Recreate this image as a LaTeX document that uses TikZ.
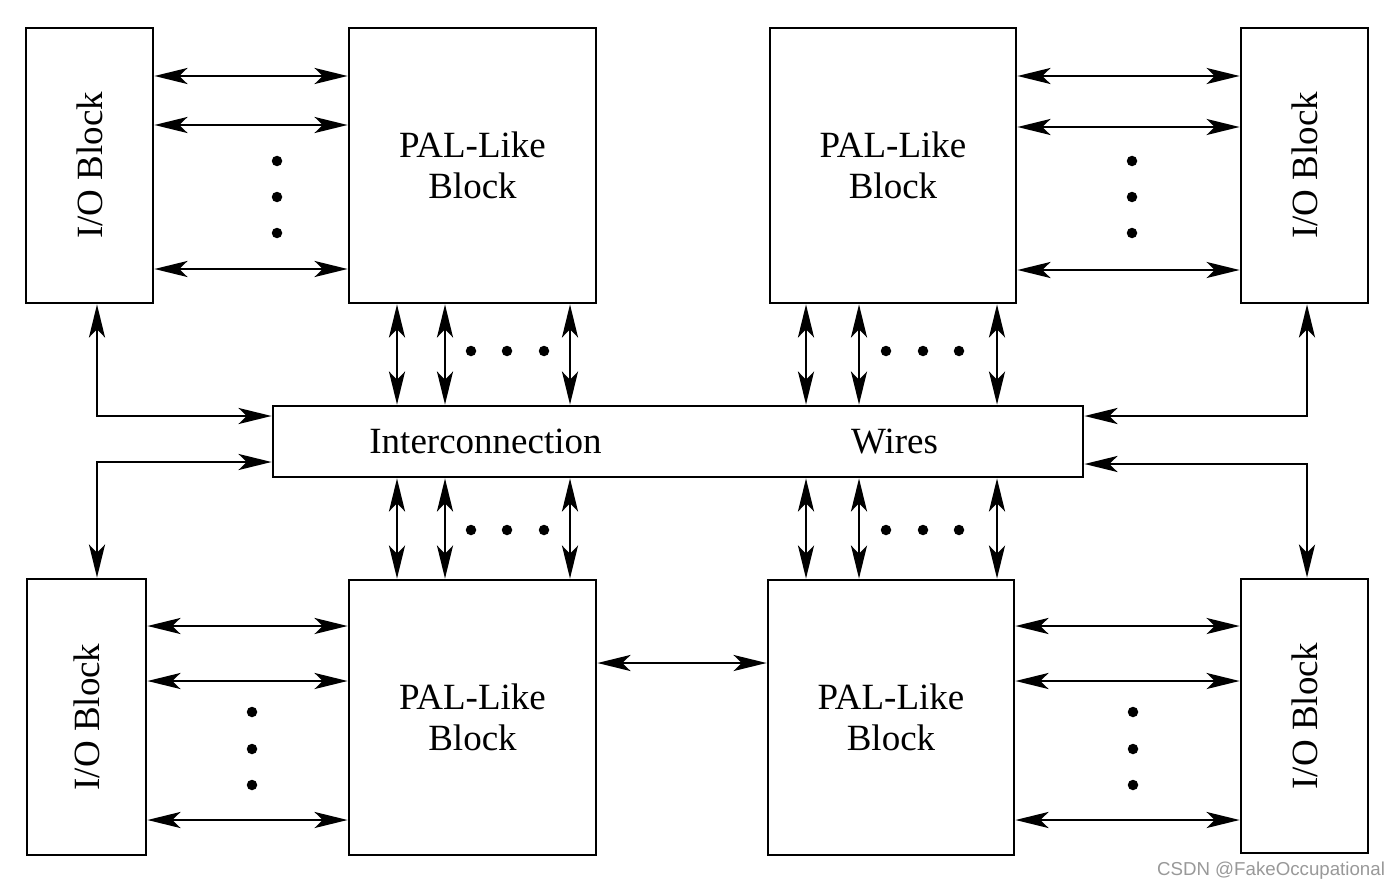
\documentclass[tikz,border=0pt]{standalone}
\usepackage{fontspec}
\setmainfont{Liberation Serif}
\newfontfamily\wmfont{Liberation Sans}
\usetikzlibrary{arrows.meta}
\begin{document}
\begin{tikzpicture}[x=1pt,y=-1pt,
  blk/.style={draw,line width=2.8pt,inner sep=0pt,font=\fontsize{37}{41}\selectfont,align=center},
  lbl/.style={inner sep=0pt,font=\fontsize{37}{41}\selectfont},
  tipx/.tip={Stealth[length=33pt,width=16pt,inset=8pt]},
  dbl/.style={line width=2.8pt,tipx-tipx},
  dotn/.style={circle,fill,inner sep=0pt,minimum size=10.5pt}]
\useasboundingbox (0,0) rectangle (1400,888);
\fill[white] (0,0) rectangle (1400,888);
% boxes
\node[blk,minimum width=127pt,minimum height=275pt] (tlio) at (89.5,165.5) {};
\node[blk,minimum width=247pt,minimum height=275pt] (tlpal) at (472.5,165.5) {PAL-Like\\Block};
\node[blk,minimum width=246pt,minimum height=275pt] (trpal) at (893,165.5) {PAL-Like\\Block};
\node[blk,minimum width=127pt,minimum height=275pt] (trio) at (1304.5,165.5) {};
\node[blk,minimum width=810pt,minimum height=71pt] (ic) at (678,441.5) {};
\node[blk,minimum width=119pt,minimum height=276pt] (blio) at (86.5,717) {};
\node[blk,minimum width=247pt,minimum height=275pt] (blpal) at (472.5,717.5) {PAL-Like\\Block};
\node[blk,minimum width=246pt,minimum height=275pt] (brpal) at (891,717.5) {PAL-Like\\Block};
\node[blk,minimum width=127pt,minimum height=274pt] (brio) at (1304.5,716) {};
% labels
\node[lbl,rotate=90] (tliot) at (tlio) {I/O Block};
\node[lbl,rotate=90] (triot) at (trio) {I/O Block};
\node[lbl,rotate=90] (bliot) at (blio) {I/O Block};
\node[lbl,rotate=90] (briot) at (brio) {I/O Block};
\node[lbl,anchor=base] (ict1) at (485.5,453) {Interconnection};
\node[lbl,anchor=base] (ict2) at (894.5,453) {Wires};
% top-left horizontal
\foreach \yy in {76,125,269} \draw[dbl] (tlio.east |- 0,\yy) -- (tlpal.west |- 0,\yy);
% top-right horizontal
\foreach \yy in {76,127,270} \draw[dbl] (trpal.east |- 0,\yy) -- (trio.west |- 0,\yy);
% bottom-left horizontal
\foreach \yy in {626,681,820} \draw[dbl] (blio.east |- 0,\yy) -- (blpal.west |- 0,\yy);
% bottom-right horizontal
\foreach \yy in {626,681,820} \draw[dbl] (brpal.east |- 0,\yy) -- (brio.west |- 0,\yy);
% PAL to PAL
\draw[dbl] (blpal.east |- 0,663) -- (brpal.west |- 0,663);
% vertical to interconnect
\foreach \xx in {397,445,570} {
  \draw[dbl] (tlpal.south -| \xx,0) -- (ic.north -| \xx,0);
  \draw[dbl] (ic.south -| \xx,0) -- (blpal.north -| \xx,0);
}
\foreach \xx in {806,859,997} {
  \draw[dbl] (trpal.south -| \xx,0) -- (ic.north -| \xx,0);
  \draw[dbl] (ic.south -| \xx,0) -- (brpal.north -| \xx,0);
}
% I/O to interconnect
\draw[dbl] (tlio.south -| 97,0) |- (ic.west |- 0,416);
\draw[dbl] (ic.west |- 0,462) -| (blio.north -| 97,0);
\draw[dbl] (trio.south -| 1307,0) |- (ic.east |- 0,416);
\draw[dbl] (ic.east |- 0,464) -| (brio.north -| 1307,0);
% dots
\node[dotn] (d1) at (277,161) {};
\node[dotn] (d2) at (277,197) {};
\node[dotn] (d3) at (277,233) {};
\node[dotn] (d4) at (1132,161) {};
\node[dotn] (d5) at (1132,197) {};
\node[dotn] (d6) at (1132,233) {};
\node[dotn] (d7) at (252,712) {};
\node[dotn] (d8) at (252,749) {};
\node[dotn] (d9) at (252,785) {};
\node[dotn] (d10) at (1133,712) {};
\node[dotn] (d11) at (1133,749) {};
\node[dotn] (d12) at (1133,785) {};
\node[dotn] (h1) at (471,351) {};
\node[dotn] (h2) at (507,351) {};
\node[dotn] (h3) at (544,351) {};
\node[dotn] (h4) at (886,351) {};
\node[dotn] (h5) at (923,351) {};
\node[dotn] (h6) at (959,351) {};
\node[dotn] (h7) at (471,530) {};
\node[dotn] (h8) at (507,530) {};
\node[dotn] (h9) at (544,530) {};
\node[dotn] (h10) at (886,530) {};
\node[dotn] (h11) at (923,530) {};
\node[dotn] (h12) at (959,530) {};
% watermark
\node[anchor=base,inner sep=0pt,text=black!40,font=\wmfont\fontsize{18.7}{20}\selectfont] (wm) at (1271,875) {CSDN @FakeOccupational};
\end{tikzpicture}
\end{document}
